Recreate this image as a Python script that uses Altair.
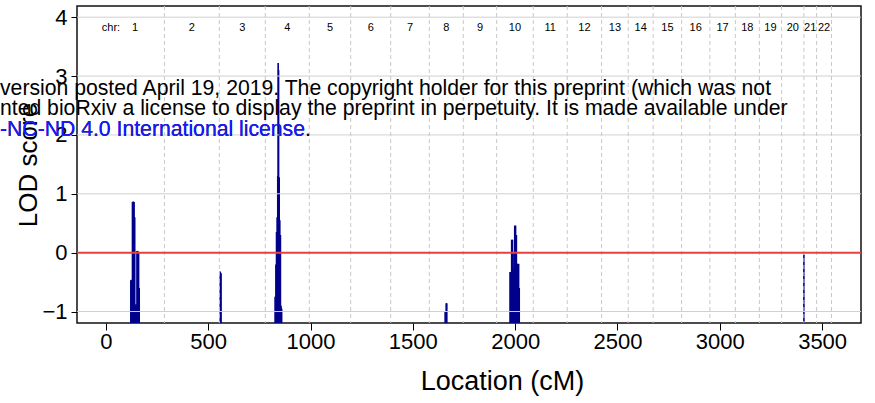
import altair as alt
import pandas as pd

# ---------------- data ----------------
chr_names = [str(i) for i in range(1, 23)]
chr_ends = [286, 554.5, 779, 994, 1196.5, 1392, 1580.5, 1746.5, 1909.5, 2088.5,
            2254.5, 2422.5, 2552.5, 2674.5, 2813.5, 2951.5, 3076, 3193.5, 3302,
            3411, 3473, 3546]
chr_starts = [0] + chr_ends[:-1]

spike_cm = [122, 126, 130, 134, 138, 141, 145, 149, 152, 156, 160, 163,
            559, 563,
            827, 831, 834, 837, 840, 842, 844, 847, 850, 853, 856, 859,
            1658, 1663, 1666,
            1975, 1979, 1983, 1987, 1990, 1994, 1998, 2002, 2006, 2009, 2013, 2017, 2020,
            3411]
spike_lod = [-0.47, -0.46, 0.86, 0.87, 0.86, 0.60, -0.88, -0.88, 0.03, 0.03, 0.00, -0.60,
             -0.32, -0.35,
             -0.75, -0.20, 0.35, 0.60, 1.30, 3.22, 3.10, 1.28, 0.55, 0.30, -0.90, -0.95,
             -0.99, -0.86, -0.86,
             -0.33, -0.33, 0.22, 0.22, -0.26, 0.00, 0.46, 0.46, 0.30, -0.19, -0.19, -0.19, -0.60,
             -0.03]

grid_lod = [-1, 1, 2, 3, 4]
x_ticks = [0, 500, 1000, 1500, 2000, 2500, 3000, 3500]
y_ticks = [-1, 0, 1, 2, 3, 4]
threshold = [0]

wm_line1 = "version posted April 19, 2019. The copyright holder for this preprint (which was not"
wm_line2 = "nted bioRxiv a license to display the preprint in perpetuity. It is made available under"
wm_line3 = "-NC-ND 4.0 International license."
wm_line3_blue = "-NC-ND 4.0 International license"

# ---------------- layout ----------------
PLOT_W, PLOT_H = 784, 317
FONT = "Liberation Sans"

xscale = alt.Scale(domain=[-141, 3690], nice=False, zero=False)
yscale = alt.Scale(domain=[-1.195, 4.19], nice=False, zero=False)

spikes_df = pd.DataFrame({"cm": spike_cm, "lod": spike_lod})
chr_df = pd.DataFrame({"chr": chr_names,
                       "end": chr_ends,
                       "mid": [(a + b) / 2 for a, b in zip(chr_starts, chr_ends)]})
grid_df = pd.DataFrame({"lod": grid_lod})
thr_df = pd.DataFrame({"lod": threshold})

xaxis = alt.Axis(values=x_ticks, title="Location (cM)", grid=False, domain=False,
                 labelFontSize=22, tickSize=7, tickColor="black", labelColor="black",
                 labelPadding=1, titleFontSize=27, titleFontWeight="normal",
                 titleColor="black", titlePadding=16, titleX=425, format="d")
yaxis = alt.Axis(values=y_ticks, title="LOD score", grid=False, domain=False,
                 labelFontSize=22, tickSize=6, tickColor="black", labelColor="black",
                 labelPadding=4, titleFontSize=26, titleFontWeight="normal",
                 titleColor="black", titlePadding=0, format="d")

spikes = alt.Chart(spikes_df).mark_rule(color="#00008b", strokeWidth=1.6).encode(
    x=alt.X("cm:Q", scale=xscale, axis=xaxis),
    y=alt.Y("lod:Q", scale=yscale, axis=yaxis),
    y2=alt.value(PLOT_H),
)

grid = alt.Chart(grid_df).mark_rule(color="#d0d0d0", strokeWidth=1).encode(
    y=alt.Y("lod:Q", scale=yscale),
)

chr_lines = alt.Chart(chr_df).mark_rule(color="#c8c8c8", strokeWidth=1,
                                        strokeDash=[4, 3]).encode(
    x=alt.X("end:Q", scale=xscale),
)

red = alt.Chart(thr_df).mark_rule(color="#e8403f", strokeWidth=2).encode(
    y=alt.Y("lod:Q", scale=yscale),
)

chr_text = alt.Chart(chr_df).mark_text(fontSize=11, font=FONT, color="black",
                                        baseline="middle").encode(
    x=alt.X("mid:Q", scale=xscale),
    y=alt.value(22),
    text="chr:N",
)

chr_prefix = alt.Chart(chr_df.head(1)).mark_text(fontSize=11, font=FONT, color="black",
                                                  baseline="middle", align="right",
                                                  dx=-15).encode(
    x=alt.X("mid:Q", scale=xscale),
    y=alt.value(22),
    text=alt.value("chr:"),
)

def wm(text, y, color):
    return alt.Chart(pd.DataFrame({"t": [text]})).mark_text(
        fontSize=21.2, font=FONT, color=color, align="left", baseline="alphabetic"
    ).encode(x=alt.value(-77), y=alt.value(y), text="t:N")

chart = alt.layer(
    spikes, grid, chr_lines, red, chr_text, chr_prefix,
    wm(wm_line1, 89, "black"),
    wm(wm_line2, 109, "black"),
    wm(wm_line3, 130, "black"),
    wm(wm_line3_blue, 130, "#1a1aff"),
).properties(
    width=PLOT_W, height=PLOT_H,
    autosize=alt.AutoSizeParams(type="none"),
    padding={"left": 77, "top": 6, "right": 14, "bottom": 80},
    background="white",
).configure(font=FONT).configure_view(stroke="#111111", strokeWidth=1.5)

chart.save("out.html", embed_options={"renderer": "svg", "actions": False})
